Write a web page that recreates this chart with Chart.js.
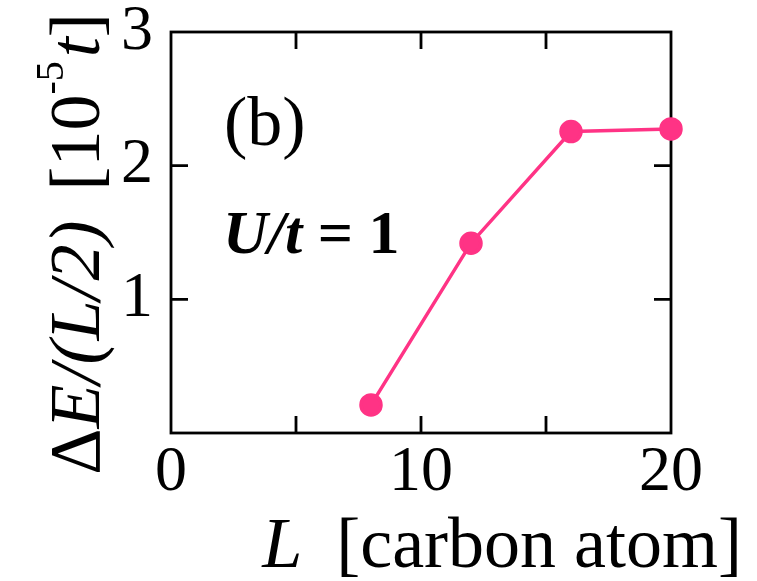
<!DOCTYPE html>
<html>
<head>
<meta charset="utf-8">
<script src="https://cdn.jsdelivr.net/npm/chart.js@4"></script>
<style>
html,body{margin:0;padding:0;background:#fff;}
#wrap{position:relative;width:757px;height:581px;}
</style>
</head>
<body>
<div id="wrap"><canvas id="c" width="757" height="581"></canvas></div>
<script>
// Data
const chainLengths = [8, 12, 16, 20];
const energyGap = [0.21, 1.42, 2.255, 2.275];
const xTickLabels = [0, 10, 20];
const yTickLabels = [1, 2, 3];

const SERIF = '"Liberation Serif", "Times New Roman", serif';
const LINE_COLOR = '#FF3385';
const TICK_SIZE = 64;

const points = chainLengths.map((x, i) => ({x: x, y: energyGap[i]}));

function richText(ctx, segs, x, y, align) {
  let total = 0;
  segs.forEach(s => { ctx.font = s.font; s.w = ctx.measureText(s.t).width; total += s.w + (s.gap || 0); });
  let cx = align === 'center' ? x - total / 2 : (align === 'right' ? x - total : x);
  segs.forEach(s => {
    ctx.font = s.font;
    ctx.fillText(s.t, cx, y + (s.dy || 0));
    cx += s.w + (s.gap || 0);
  });
}

const framePlugin = {
  id: 'frame',
  beforeDatasetsDraw(chart) {
    const {ctx, chartArea: a, scales} = chart;
    ctx.save();
    ctx.strokeStyle = '#000';
    ctx.lineWidth = 2.8;
    ctx.strokeRect(a.left, a.top, a.right - a.left, a.bottom - a.top);
    const tl = 17;
    ctx.beginPath();
    scales.x.ticks.forEach(t => {
      if (t.value <= scales.x.min || t.value >= scales.x.max) return;
      const px = scales.x.getPixelForValue(t.value);
      ctx.moveTo(px, a.bottom); ctx.lineTo(px, a.bottom - tl);
      ctx.moveTo(px, a.top); ctx.lineTo(px, a.top + tl);
    });
    scales.y.ticks.forEach(t => {
      if (t.value <= scales.y.min || t.value >= scales.y.max) return;
      const py = scales.y.getPixelForValue(t.value);
      ctx.moveTo(a.left, py); ctx.lineTo(a.left + tl, py);
      ctx.moveTo(a.right, py); ctx.lineTo(a.right - tl, py);
    });
    ctx.stroke();
    ctx.restore();
  },
  afterDraw(chart) {
    const {ctx} = chart;
    ctx.save();
    ctx.fillStyle = '#000';
    ctx.textBaseline = 'alphabetic';
    const F = 72;
    // x title
    richText(ctx, [
      {t: 'L', font: `italic ${F}px ${SERIF}`, gap: 34},
      {t: '[carbon atom]', font: `${F}px ${SERIF}`}
    ], 742, 567, 'right');
    // y title
    ctx.save();
    ctx.translate(99, 244);
    ctx.rotate(-Math.PI / 2);
    richText(ctx, [
      {t: '\u0394', font: `${F}px ${SERIF}`},
      {t: 'E/(L/2)', font: `italic ${F}px ${SERIF}`, gap: 30},
      {t: '[10', font: `${F}px ${SERIF}`},
      {t: '-5', font: `${Math.round(F*0.55)}px ${SERIF}`, dy: -36, gap: 4},
      {t: 't', font: `italic ${F}px ${SERIF}`},
      {t: ']', font: `${F}px ${SERIF}`}
    ], 0, 0, 'center');
    ctx.restore();
    // annotations
    richText(ctx, [{t: '(b)', font: `70px ${SERIF}`}], 224, 145, 'left');
    richText(ctx, [
      {t: 'U/t', font: `italic bold 62px ${SERIF}`},
      {t: ' = 1', font: `bold 62px ${SERIF}`}
    ], 223, 253, 'left');
    ctx.restore();
  }
};

new Chart(document.getElementById('c'), {
  type: 'scatter',
  data: {
    datasets: [{
      data: points,
      showLine: true,
      borderColor: LINE_COLOR,
      backgroundColor: LINE_COLOR,
      borderWidth: 3.5,
      pointRadius: 10,
      pointHoverRadius: 10,
      clip: false
    }]
  },
  options: {
    responsive: false,
    animation: false,
    devicePixelRatio: 1,
    layout: {padding: {left: 0, right: 86, top: 32, bottom: 0}},
    plugins: {legend: {display: false}, tooltip: {enabled: false}},
    scales: {
      x: {
        type: 'linear', min: 0, max: 20,
        afterFit(s) { s.height = 148; s.paddingLeft = 0; s.paddingRight = 0; },
        grid: {display: false, drawTicks: false},
        border: {display: false},
        ticks: {
          stepSize: 5, padding: 2, color: '#000',
          font: {family: SERIF, size: TICK_SIZE},
          maxRotation: 0, autoSkip: false,
          callback: v => xTickLabels.includes(v) ? String(v) : ''
        }
      },
      y: {
        type: 'linear', min: 0, max: 3,
        afterFit(s) { s.width = 171; s.paddingTop = 0; s.paddingBottom = 0; },
        grid: {display: false, drawTicks: false},
        border: {display: false},
        ticks: {
          stepSize: 1, padding: 18, color: '#000',
          font: {family: SERIF, size: TICK_SIZE},
          callback: v => yTickLabels.includes(v) ? String(v) : ''
        }
      }
    }
  },
  plugins: [framePlugin]
});
</script>
</body>
</html>
